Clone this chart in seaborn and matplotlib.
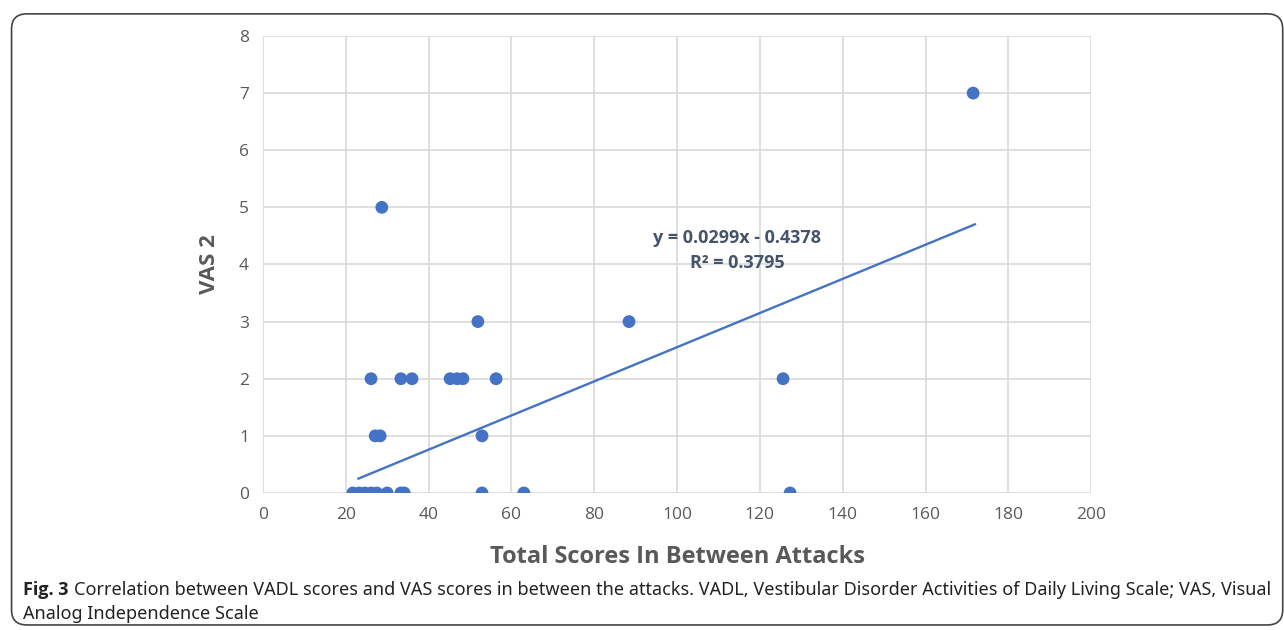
import matplotlib
matplotlib.use("Agg")
import matplotlib.pyplot as plt
from matplotlib.patches import FancyBboxPatch
import seaborn as sns
import pandas as pd

# VADL total scores in between attacks vs VAS 2
total_scores = [21.7, 23.2, 24.6, 26.1, 27.5, 30.0, 33.3, 34.1, 52.9, 63.0, 127.3,
                27.1, 28.3, 52.9,
                26.1, 33.3, 36.0, 45.2, 46.9, 48.3, 56.3, 125.6,
                51.9, 88.4,
                28.7,
                171.5]
vas2 = [0, 0, 0, 0, 0, 0, 0, 0, 0, 0, 0,
        1, 1, 1,
        2, 2, 2, 2, 2, 2, 2, 2,
        3, 3,
        5,
        7]
# trendline as reported on the chart
slope = 0.0299
intercept = -0.4378
r_squared = 0.3795
trend_x = [23.0, 172.0]

df = pd.DataFrame({"total": total_scores, "vas": vas2})
trend = pd.DataFrame({"x": trend_x, "y": [slope * v + intercept for v in trend_x]})

sns.set_style("white")
plt.rcParams["font.family"] = ["Open Sans", "DejaVu Sans"]

blue = "#4472C4"
grey = "#595959"

fig = plt.figure(figsize=(12.84, 6.3), dpi=100)
ax = fig.add_axes([0.2048, 0.2175, 0.645, 0.7254])

sns.lineplot(data=trend, x="x", y="y", ax=ax, color=blue, linewidth=1.7, zorder=2)
sns.scatterplot(data=df, x="total", y="vas", ax=ax, color=blue, s=85,
                edgecolor="none", zorder=3)

ax.set_xlim(0, 200)
ax.set_ylim(0, 8)
ax.set_xticks(range(0, 201, 20))
ax.set_yticks(range(0, 9))
ax.grid(True, color="#d9d9d9", linewidth=1.2)
ax.set_axisbelow(True)
for s in ax.spines.values():
    s.set_visible(False)
ax.tick_params(length=0, labelsize=12.5, colors=grey, pad=10)
ax.set_xlabel("Total Scores In Between Attacks", fontsize=17, fontweight="bold",
              color=grey, labelpad=16)
ax.set_ylabel("VAS 2", fontsize=16, fontweight="bold", color=grey, labelpad=14)

ax.text(114.5, 4.25, f"y = {slope}x - {abs(intercept)}\nR² = {r_squared}",
        ha="center", va="center", fontsize=13, fontweight="bold",
        color="#44546A", linespacing=1.5)

fig.patches.append(FancyBboxPatch((0.009, 0.008), 0.99, 0.97, transform=fig.transFigure,
                                  boxstyle="round,pad=0,rounding_size=0.012",
                                  facecolor="none", edgecolor="#444444", linewidth=1.2,
                                  mutation_aspect=2.0))

cap_font = ["Noto Sans", "DejaVu Sans"]
fig.text(0.018, 0.056, "Fig. 3", fontsize=13, fontweight="bold", color="#222222")
fig.text(0.058, 0.056,
         "Correlation between VADL scores and VAS scores in between the attacks. VADL, "
         "Vestibular Disorder Activities of Daily Living Scale; VAS, Visual",
         fontsize=13, color="#222222", family=cap_font)
fig.text(0.018, 0.018, "Analog Independence Scale", fontsize=13, color="#222222",
         family=cap_font)

fig.savefig("out.png", dpi=100)
